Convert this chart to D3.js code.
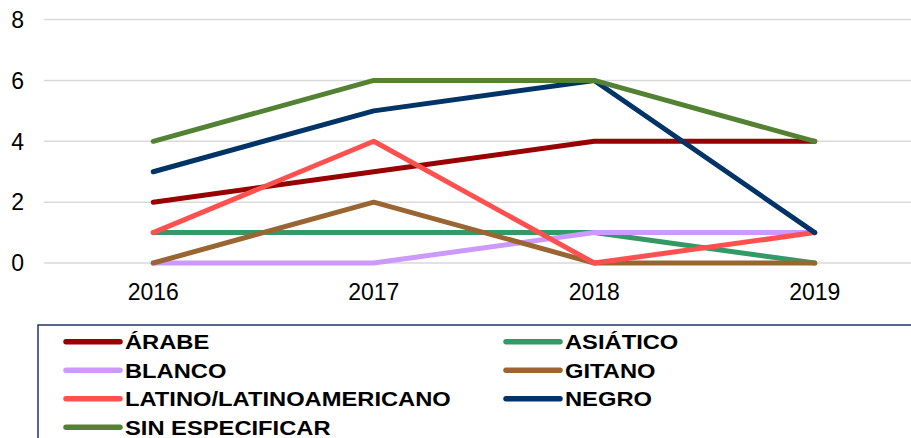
<!DOCTYPE html>
<html>
<head>
<meta charset="utf-8">
<script src="https://cdn.jsdelivr.net/npm/d3@7"></script>
<style>
body { margin: 0; background: #fff; }
svg { display: block; }
.grid line { stroke: #d9d9d9; stroke-width: 1.5px; }
.line { fill: none; stroke-width: 5px; stroke-linejoin: round; stroke-linecap: round; }
text { font-family: 'Liberation Sans', Arial, sans-serif; fill: #000; }
</style>
</head>
<body>
<svg width="911" height="438"></svg>
<script>
// years along the bottom
var years = ['2016', '2017', '2018', '2019'];
var yTicks = [0, 2, 4, 6, 8];

// one array per series
var arabe = [2, 3, 4, 4];
var asiatico = [1, 1, 1, 0];
var blanco = [0, 0, 1, 1];
var gitano = [0, 2, 0, 0];
var latino = [1, 4, 0, 1];
var negro = [3, 5, 6, 1];
var sinEspecificar = [4, 6, 6, 4];

var seriesNames = ['ÁRABE', 'ASIÁTICO', 'BLANCO', 'GITANO', 'LATINO/LATINOAMERICANO', 'NEGRO', 'SIN ESPECIFICAR'];
var seriesColors = ['#990000', '#339966', '#cc99ff', '#996633', '#ff5050', '#003366', '#548235'];
var seriesValues = [arabe, asiatico, blanco, gitano, latino, negro, sinEspecificar];

var series = seriesNames.map(function(name, i) {
  return {name: name, color: seriesColors[i], values: seriesValues[i]};
});

var svg = d3.select('svg');

var x = d3.scalePoint().domain(years).range([43, 925]).padding(0.5),
    y = d3.scaleLinear().domain([0, 8]).range([263, 19.6]);

// horizontal gridlines
svg.append('g')
  .attr('class', 'grid')
  .selectAll('line')
  .data(yTicks)
  .enter()
  .append('line')
  .attr('x1', 44)
  .attr('x2', 911)
  .attr('y1', function(d) { return y(d); })
  .attr('y2', function(d) { return y(d); });

// y labels
svg.append('g')
  .selectAll('text')
  .data(yTicks)
  .enter()
  .append('text')
  .attr('x', 24)
  .attr('y', function(d) { return y(d); })
  .attr('dy', '0.36em')
  .attr('text-anchor', 'end')
  .style('font-size', '23px')
  .text(function(d) { return d; });

// x labels
svg.append('g')
  .selectAll('text')
  .data(years)
  .enter()
  .append('text')
  .attr('x', function(d) { return x(d); })
  .attr('y', 299.5)
  .attr('text-anchor', 'middle')
  .style('font-size', '23px')
  .text(function(d) { return d; });

var line = d3.line()
  .x(function(d, i) { return x(years[i]); })
  .y(function(d) { return y(d); });

svg.append('g')
  .selectAll('path')
  .data(series)
  .enter()
  .append('path')
  .attr('class', 'line')
  .style('stroke', function(d) { return d.color; })
  .attr('d', function(d) { return line(d.values); });

// legend, box runs off the right and bottom like the original
var legend = svg.append('g');

legend.append('rect')
  .attr('x', 38)
  .attr('y', 325)
  .attr('width', 900)
  .attr('height', 140)
  .attr('fill', 'none')
  .attr('stroke', '#1f3864')
  .attr('stroke-width', 1.5);

var item = legend.selectAll('.item')
  .data(series)
  .enter()
  .append('g')
  .attr('class', 'item')
  .attr('transform', function(d, i) {
    var col = i % 2, row = Math.floor(i / 2);
    return 'translate(' + (col ? 505 : 65) + ',' + (341.7 + row * 28.5) + ')';
  });

item.append('line')
  .attr('x1', 1)
  .attr('x2', 55)
  .attr('stroke', function(d) { return d.color; })
  .attr('stroke-width', 5.5)
  .attr('stroke-linecap', 'round');

// the original text is a bit wider than the font, so stretch it
item.append('text')
  .attr('transform', 'translate(60,0) scale(1.13,1)')
  .attr('dy', '0.36em')
  .style('font-size', '21px')
  .style('font-weight', 'bold')
  .text(function(d) { return d.name; });
</script>
</body>
</html>
